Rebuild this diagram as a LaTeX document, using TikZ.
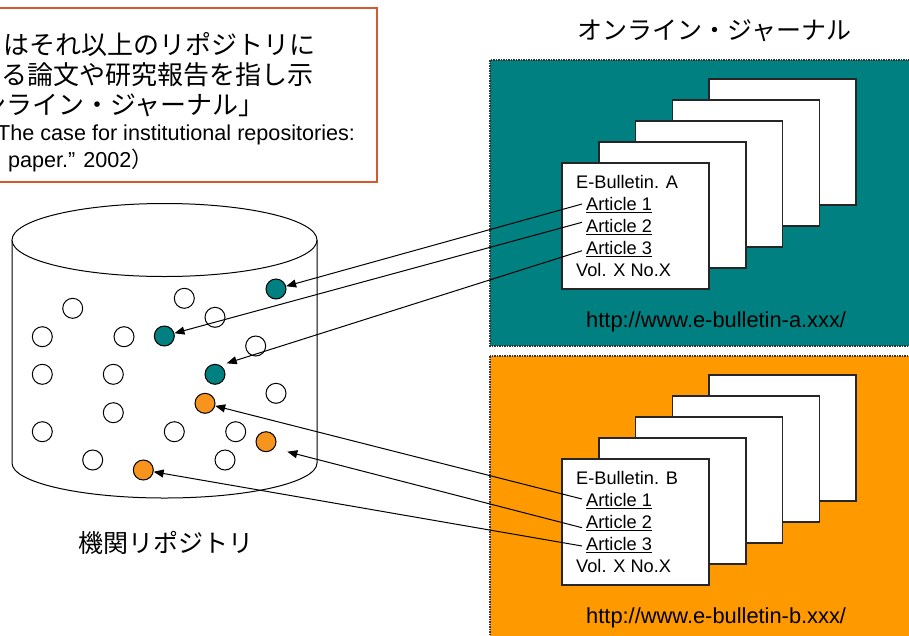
\documentclass[tikz,border=0pt]{standalone}
\usepackage{fontspec}
\setmainfont{Liberation Sans}
\newfontfamily\jpfont{Noto Sans CJK JP}
\usetikzlibrary{arrows.meta}
\definecolor{tealbox}{RGB}{0,128,128}
\definecolor{orangebox}{RGB}{255,153,0}
\definecolor{orangedot}{RGB}{247,148,30}
\definecolor{quoteborder}{RGB}{214,88,44}
\begin{document}
\begin{tikzpicture}[x=1pt,y=-1pt,
  dot/.style={circle, draw=black, line width=1pt, minimum size=20pt, inner sep=0pt},
  wdot/.style={dot, fill=white},
  tdot/.style={dot, fill=tealbox},
  odot/.style={dot, fill=orangedot},
  paper/.style={draw=black!85, line width=1.5pt, fill=white},
  journalbox/.style={draw=black!80, line width=1.5pt, densely dotted},
  arr/.style={line width=1pt, -{Triangle[length=10pt,width=8pt]}},
  jp/.style={font=\jpfont\fontsize{25}{30}\selectfont, inner sep=0pt},
  jpq/.style={font=\jpfont\fontsize{26}{30}\selectfont, inner sep=0pt},
  entext/.style={font=\fontsize{21.6}{26}\selectfont, inner sep=0pt},
  papertext/.style={font=\fontsize{18.2}{22}\selectfont, inner sep=0pt, anchor=base west},
  urltext/.style={font=\fontsize{21.85}{26}\selectfont, inner sep=0pt, anchor=base west}
]
\useasboundingbox (0,0) rectangle (909,635);
\fill[white] (0,0) rectangle (909,635);

% quote box
\draw[quoteborder, line width=1.5pt] (-10,8) rectangle (377,182);
\node[jpq, anchor=west] (q1) at (3,45) {はそれ以上のリポジトリに};
\node[jpq, anchor=west] (q2) at (1,75) {る論文や研究報告を指し示};
\node[jpq, anchor=east] (q3) at (265,105) {ンライン・ジャーナル」};
\node[entext, anchor=west] (q4) at (-3,135) {The case for institutional repositories:};
\node[entext, anchor=west] (q5) at (8,160) {paper.” 2002{\jpfont ）}};

% journal boxes
\fill[tealbox] (490,60) rectangle (920,346);
\draw[journalbox] (490,60) rectangle (920,346);
\fill[orangebox] (490,356) rectangle (920,645);
\draw[journalbox] (490,356) rectangle (920,645);

\node[jp] (title) at (714.5,31) {オンライン・ジャーナル};

% papers A
\foreach \k in {4,3,2,1,0} {
  \draw[paper] ({562+36.75*\k},{163-21*\k}) rectangle ++(147,126);
}
\node[papertext] (ebA) at (576,188.7) {E-Bulletin. A};
\node[papertext] (artA1) at (586,210.7) {\underline{Article 1}};
\node[papertext] (artA2) at (586,232.7) {\underline{Article 2}};
\node[papertext] (artA3) at (586,254.7) {\underline{Article 3}};
\node[papertext] (volA) at (576,276.7) {Vol. X No.X};
\node[urltext] (urlA) at (586,327.5) {http://www.e-bulletin-a.xxx/};

% papers B
\foreach \k in {4,3,2,1,0} {
  \draw[paper] ({562+36.75*\k},{459-21*\k}) rectangle ++(147,126);
}
\node[papertext] (ebB) at (576,484.7) {E-Bulletin. B};
\node[papertext] (artB1) at (586,506.7) {\underline{Article 1}};
\node[papertext] (artB2) at (586,528.7) {\underline{Article 2}};
\node[papertext] (artB3) at (586,550.7) {\underline{Article 3}};
\node[papertext] (volB) at (576,572.7) {Vol. X No.X};
\node[urltext] (urlB) at (586,623.5) {http://www.e-bulletin-b.xxx/};

% cylinder
\draw[line width=1pt, fill=white] (12,240) -- (12,463)
  arc[start angle=180, end angle=360, x radius=152.5pt, y radius=35pt] -- (317,240);
\draw[line width=1pt, fill=white] (164.5,240) ellipse [x radius=152.5pt, y radius=36.5pt];

\node[jp] (repo) at (166,543) {機関リポジトリ};

% white dots
\node[wdot] (w1) at (72.7,308.3) {};
\node[wdot] (w2) at (184.3,298.3) {};
\node[wdot] (w3) at (215,317.3) {};
\node[wdot] (w4) at (42.3,336.7) {};
\node[wdot] (w5) at (124,336.7) {};
\node[wdot] (w6) at (255.7,346) {};
\node[wdot] (w7) at (42.3,374.3) {};
\node[wdot] (w8) at (113.3,374.3) {};
\node[wdot] (w9) at (276,393.3) {};
\node[wdot] (w10) at (113.3,412.7) {};
\node[wdot] (w11) at (42.3,431.7) {};
\node[wdot] (w12) at (174.3,431.7) {};
\node[wdot] (w13) at (235.7,431.7) {};
\node[wdot] (w14) at (92.7,460) {};
\node[wdot] (w15) at (225,460) {};
% teal dots
\node[tdot] (t1) at (276,289) {};
\node[tdot] (t2) at (164.3,336) {};
\node[tdot] (t3) at (215,374.3) {};
% orange dots
\node[odot] (o1) at (205,403.3) {};
\node[odot] (o2) at (266,441.7) {};
\node[odot] (o3) at (143.3,470) {};

% connector ends
\coordinate (aA1) at (582,204);
\coordinate (aA2) at (582,222.3);
\coordinate (aA3) at (582,250.7);
\coordinate (aB1) at (582,499);
\coordinate (aB2) at (582,527.7);
\coordinate (aB3) at (582,546);
\coordinate (t3tip) at (226.7,363.3);
\coordinate (o2tip) at (287.3,451.7);

\draw[arr] (aA1) -- (t1);
\draw[arr] (aA2) -- (t2);
\draw[arr] (aA3) -- (t3tip);
\draw[arr] (aB1) -- (o1);
\draw[arr] (aB2) -- (o2tip);
\draw[arr] (aB3) -- (o3);
\end{tikzpicture}
\end{document}
